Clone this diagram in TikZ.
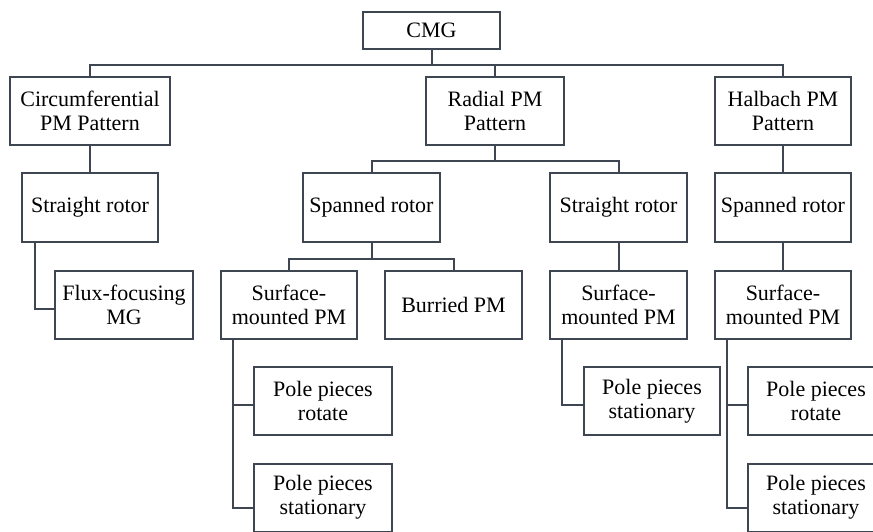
\documentclass[tikz,border=0pt]{standalone}
\usepackage{fontspec}
\setmainfont{Liberation Serif}
\usepackage{tikz}
\definecolor{boxline}{RGB}{62,70,82}
\tikzset{
  catbox/.style={draw=boxline, fill=white, line width=2pt, rectangle, align=center,
    minimum width=137pt, minimum height=68pt, inner sep=2pt,
    font=\rmfamily\fontsize{22}{24}\selectfont},
  conn/.style={draw=boxline, line width=2pt}
}

\begin{document}
\begin{tikzpicture}[x=1pt,y=-1pt]
\useasboundingbox (0,0) rectangle (873,532);

\node[catbox, minimum height=37pt] (cmg) at (431.5,30.5) {CMG};

\node[catbox, minimum width=160pt] (circ) at (90,111) {Circumferential\\PM Pattern};
\node[catbox, minimum width=138pt] (radial) at (495,111) {Radial PM\\Pattern};
\node[catbox, minimum width=136pt] (halbach) at (783,111) {Halbach PM\\Pattern};

\node[catbox, minimum width=136pt] (straightA) at (90,207.5) {Straight rotor};
\node[catbox] (spannedA) at (371.5,207.5) {Spanned rotor};
\node[catbox] (straightB) at (618.5,207.5) {Straight rotor};
\node[catbox, minimum width=136pt] (spannedB) at (783,207.5) {Spanned rotor};

\node[catbox, minimum width=138pt] (flux) at (124,305) {Flux-focusing\\MG};
\node[catbox, minimum width=136pt] (surfA) at (289,305) {Surface-\\mounted PM};
\node[catbox] (burried) at (453.5,305) {Burried PM};
\node[catbox] (surfB) at (618.5,305) {Surface-\\mounted PM};
\node[catbox, minimum width=136pt] (surfC) at (783,305) {Surface-\\mounted PM};

\node[catbox, minimum width=138pt] (rotA) at (323,401) {Pole pieces\\rotate};
\node[catbox, minimum width=138pt] (statA) at (323,497.5) {Pole pieces\\stationary};
\node[catbox, minimum width=136pt] (statB) at (652,401) {Pole pieces\\stationary};
\node[catbox, minimum width=136pt] (rotC) at (816,401) {Pole pieces\\rotate};
\node[catbox, minimum width=136pt] (statC) at (816,497.5) {Pole pieces\\stationary};

\path (cmg.south) ++(0,15) coordinate (busA);
\draw[conn] (cmg.south) -- (busA);
\draw[conn] (circ.north) |- (busA) -| (halbach.north);
\draw[conn] (radial.north) -- (radial.north |- busA);

\draw[conn] (circ) -- (straightA);
\draw[conn] ([xshift=14pt]straightA.south west) |- ([yshift=-4pt]flux.west);

\path (radial.south) ++(0,15) coordinate (busB);
\draw[conn] (radial.south) -- (busB);
\draw[conn] (spannedA.north) |- (busB) -| (straightB.north);

\path (spannedA.south) ++(0,16) coordinate (busC);
\draw[conn] (spannedA.south) -- (busC);
\draw[conn] (surfA.north) |- (busC) -| (burried.north);

\draw[conn] ([xshift=13pt]surfA.south west) |- ([yshift=-4pt]rotA.west);
\draw[conn] ([xshift=13pt]surfA.south west) |- ([yshift=-10pt]statA.west);

\draw[conn] (straightB) -- (surfB);
\draw[conn] ([xshift=13pt]surfB.south west) |- ([yshift=-4pt]statB.west);

\draw[conn] (halbach) -- (spannedB);
\draw[conn] (spannedB) -- (surfC);
\draw[conn] ([xshift=13pt]surfC.south west) |- ([yshift=-4pt]rotC.west);
\draw[conn] ([xshift=13pt]surfC.south west) |- ([yshift=-10pt]statC.west);
\end{tikzpicture}
\end{document}
